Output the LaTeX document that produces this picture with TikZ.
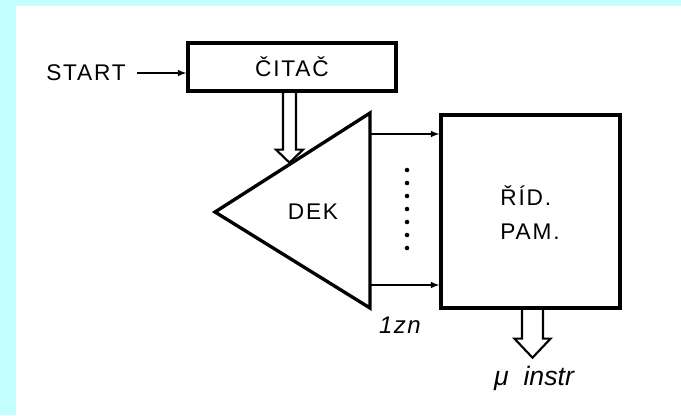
\documentclass[tikz,border=0pt]{standalone}
\usepackage{fontspec}
\setmainfont{Liberation Sans}
\usetikzlibrary{calc}
\definecolor{framecyan}{RGB}{196,255,255}

\begin{document}
\begin{tikzpicture}[>=latex, x=0.75pt, y=-0.75pt,
  box/.style={draw, line width=2.5pt, inner sep=0pt},
  wire/.style={->, line width=1.2pt},
  hollow/.style={draw, line width=1.6pt, line join=miter},
  lbl/.style={font=\fontsize{17}{25.5}\selectfont\addfontfeature{LetterSpace=8}},
  note/.style={font=\fontsize{18}{22}\selectfont\itshape\addfontfeature{LetterSpace=6}}]
% podklad
\fill[framecyan] (0,0) rectangle (681,415);
\fill[white] (16,6) rectangle (681,415);
\useasboundingbox (0,0) rectangle (681,415);
% CITAC
\node[box, lbl, minimum width=156pt, minimum height=36pt] (citac) at (292,67) {ČITAČ};
\node[lbl] (start) at (86,73) {START};
\draw[wire] ([xshift=5pt]start.east) -- (start.east -| citac.west);
% DEK
\coordinate (apex) at (215,212);
\coordinate (dtop) at (370,113);
\coordinate (dbot) at (370,308);
\draw[line width=2.5pt, line join=miter] (apex) -- (dtop) -- (dbot) -- cycle;
\node[lbl] (dek) at (313,212) {DEK};
\draw[hollow] ($(citac.south)+(-9,0)$) -- ++(0,57) -- ++(-7,0) -- ++(13.5,13) -- ++(13.5,-13) -- ++(-7,0) -- ++(0,-57);
% RID. PAM.
\node[box, minimum width=134.25pt, minimum height=144.75pt] (pam) at (530.5,211.5) {};
\node[lbl, align=left] (pamtext) at (530,213) {ŘÍD.\\PAM.};
\coordinate (out1) at (370,134);
\coordinate (outn) at (370,285);
\draw[wire] (out1) -- (out1 -| pam.west);
\draw[wire] (outn) -- (outn -| pam.west);
\foreach \i in {0,...,6}
  \fill (407,170+13*\i) circle (1.7pt);
\node[note] (zn) at (400,325) {1zn};
% vystup
\draw[hollow] ($(pam.south)+(-8.5,0)$) -- ++(0,29) -- ++(-7.5,0) -- ++(18,19) -- ++(18,-19) -- ++(-7.5,0) -- ++(0,-29);
\node[note, font=\fontsize{20}{24}\selectfont\itshape] (minstr) at (534,378) {μ\ \ instr};
\end{tikzpicture}
\end{document}
